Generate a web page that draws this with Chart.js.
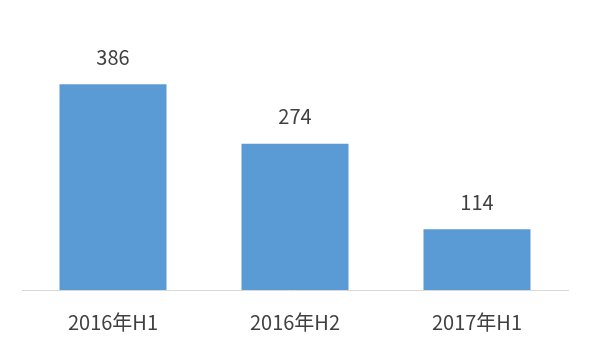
<!DOCTYPE html>
<html>
<head>
<meta charset="utf-8">
<script src="https://cdn.jsdelivr.net/npm/chart.js@4"></script>
<style>
  html, body { margin: 0; padding: 0; background: #fff; }
  #wrap { width: 591px; height: 355px; }
</style>
</head>
<body>
<div id="wrap"><canvas id="barChart"></canvas></div>
<script>
// Chart data
const periods = ['2016年H1', '2016年H2', '2017年H1'];
const amounts = [386, 274, 114];

const FONT = '"Noto Sans CJK SC", "Noto Sans", sans-serif';

// draw value above each bar
const valueLabels = {
  id: 'valueLabels',
  afterDatasetsDraw(chart) {
    const ctx = chart.ctx;
    const meta = chart.getDatasetMeta(0);
    ctx.save();
    ctx.font = '20px ' + FONT;
    ctx.fillStyle = '#404040';
    ctx.textAlign = 'center';
    ctx.textBaseline = 'middle';
    meta.data.forEach((bar, i) => {
      ctx.fillText(String(amounts[i]), bar.x, bar.y - 27);
    });
    ctx.restore();
  }
};

new Chart(document.getElementById('barChart'), {
  type: 'bar',
  data: {
    labels: periods,
    datasets: [{
      data: amounts,
      backgroundColor: '#5B9BD5',
      barPercentage: 0.588,
      categoryPercentage: 1
    }]
  },
  options: {
    responsive: true,
    maintainAspectRatio: false,
    animation: false,
    layout: { padding: { top: 50, left: 22, right: 23, bottom: 1 } },
    plugins: {
      legend: { display: false },
      tooltip: { enabled: false }
    },
    scales: {
      x: {
        grid: { display: false, drawTicks: false },
        border: { display: true, color: '#d9d9d9', width: 1 },
        ticks: { color: '#404040', font: { family: FONT, size: 20 }, padding: 20 }
      },
      y: {
        display: false,
        min: 0,
        max: 450
      }
    }
  },
  plugins: [valueLabels]
});
</script>
</body>
</html>
